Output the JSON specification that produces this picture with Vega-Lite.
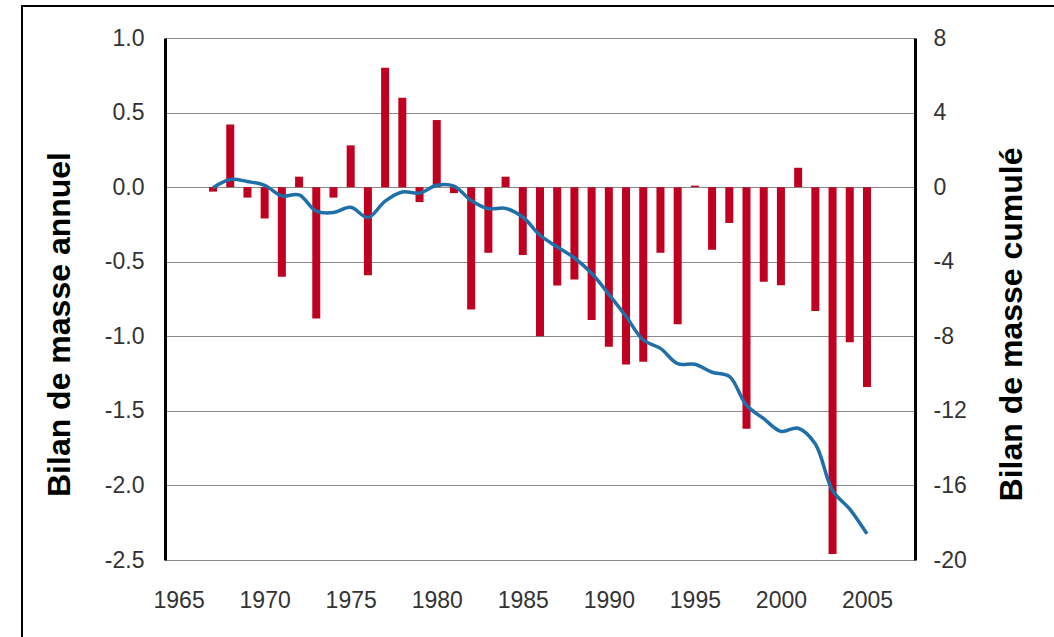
{
  "$schema": "https://vega.github.io/schema/vega-lite/v6.json",
  "autosize": "none",
  "width": 750,
  "height": 522,
  "padding": {"left": 165, "top": 38, "right": 139, "bottom": 77},
  "background": "white",
  "config": {
    "view": {"stroke": null},
    "font": "Liberation Sans",
    "axis": {"labelFont": "Liberation Sans", "titleFont": "Liberation Sans"}
  },
  "data": {
    "values": [
      {"year": 1967, "annual": -0.03, "cum": -0.03},
      {"year": 1968, "annual": 0.42, "cum": 0.41},
      {"year": 1969, "annual": -0.07, "cum": 0.3},
      {"year": 1970, "annual": -0.21, "cum": 0.1},
      {"year": 1971, "annual": -0.6, "cum": -0.47},
      {"year": 1972, "annual": 0.07, "cum": -0.42},
      {"year": 1973, "annual": -0.88, "cum": -1.29},
      {"year": 1974, "annual": -0.07, "cum": -1.36},
      {"year": 1975, "annual": 0.28, "cum": -1.08},
      {"year": 1976, "annual": -0.59, "cum": -1.63},
      {"year": 1977, "annual": 0.8, "cum": -0.75},
      {"year": 1978, "annual": 0.6, "cum": -0.26},
      {"year": 1979, "annual": -0.1, "cum": -0.32},
      {"year": 1980, "annual": 0.45, "cum": 0.1},
      {"year": 1981, "annual": -0.04, "cum": 0.06},
      {"year": 1982, "annual": -0.82, "cum": -0.72},
      {"year": 1983, "annual": -0.44, "cum": -1.16},
      {"year": 1984, "annual": 0.07, "cum": -1.14},
      {"year": 1985, "annual": -0.455, "cum": -1.6},
      {"year": 1986, "annual": -1.0, "cum": -2.58},
      {"year": 1987, "annual": -0.66, "cum": -3.2},
      {"year": 1988, "annual": -0.62, "cum": -3.8},
      {"year": 1989, "annual": -0.89, "cum": -4.62},
      {"year": 1990, "annual": -1.07, "cum": -5.75},
      {"year": 1991, "annual": -1.19, "cum": -6.93},
      {"year": 1992, "annual": -1.17, "cum": -8.2},
      {"year": 1993, "annual": -0.44, "cum": -8.65},
      {"year": 1994, "annual": -0.92, "cum": -9.47},
      {"year": 1995, "annual": 0.01, "cum": -9.5},
      {"year": 1996, "annual": -0.42, "cum": -9.93},
      {"year": 1997, "annual": -0.24, "cum": -10.15},
      {"year": 1998, "annual": -1.62, "cum": -11.7},
      {"year": 1999, "annual": -0.635, "cum": -12.42},
      {"year": 2000, "annual": -0.657, "cum": -13.1},
      {"year": 2001, "annual": 0.13, "cum": -12.93},
      {"year": 2002, "annual": -0.83, "cum": -13.78},
      {"year": 2003, "annual": -2.46, "cum": -16.27},
      {"year": 2004, "annual": -1.04, "cum": -17.27},
      {"year": 2005, "annual": -1.34, "cum": -18.6}
    ]
  },
  "encoding": {
    "x": {
      "field": "year",
      "type": "quantitative",
      "scale": {"domain": [1964.5, 2007.5], "nice": false, "zero": false},
      "axis": {
        "title": null,
        "values": [1965, 1970, 1975, 1980, 1985, 1990, 1995, 2000, 2005],
        "format": "d",
        "grid": false,
        "domain": false,
        "ticks": false,
        "labelFontSize": 23,
        "labelColor": "#333333",
        "labelPadding": 29
      }
    }
  },
  "layer": [
    {
      "layer": [
        {
          "mark": {"type": "bar", "color": "#c00020", "size": 8},
          "encoding": {
            "y": {
              "field": "annual",
              "type": "quantitative",
              "scale": {"domain": [-2.5, 1.0], "nice": false, "zero": true},
              "axis": {
                "title": "Bilan de masse annuel",
                "titleFontSize": 32,
                "titleFontWeight": "bold",
                "titleColor": "black",
                "titlePadding": 28,
                "titleY": 286,
                "values": [-2.5, -2, -1.5, -1, -0.5, 0, 0.5, 1],
                "labelExpr": "(datum.value < 0 ? '-' : '') + format(abs(datum.value), '.1f')",
                "labelFontSize": 23,
                "labelColor": "#333333",
                "labelPadding": 21,
                "ticks": false,
                "domain": true,
                "domainColor": "black",
                "domainWidth": 3,
                "grid": true,
                "gridColor": "#8a8a8a",
                "gridWidth": 1.2
              }
            }
          }
        },
        {
          "mark": {"type": "rect", "fill": null, "stroke": "black", "strokeWidth": 2, "clip": false},
          "encoding": {
            "x": {"datum": 1955.9},
            "x2": {"datum": 2016.5},
            "y": {"datum": 1.215},
            "y2": {"datum": -3.2}
          }
        }
      ]
    },
    {
      "mark": {"type": "line", "color": "#1f6fa8", "strokeWidth": 3.5, "interpolate": "catmull-rom"},
      "encoding": {
        "y": {
          "field": "cum",
          "type": "quantitative",
          "scale": {"domain": [-20, 8], "nice": false, "zero": false},
          "axis": {
            "orient": "right",
            "title": "Bilan de masse cumulé",
            "titleFontSize": 32,
            "titleFontWeight": "bold",
            "titleColor": "black",
            "titleAngle": -90,
            "titleBaseline": "top",
            "titlePadding": 30,
            "titleY": 286,
            "values": [-20, -16, -12, -8, -4, 0, 4, 8],
            "labelExpr": "(datum.value < 0 ? '-' : '') + format(abs(datum.value), 'd')",
            "labelFontSize": 23,
            "labelColor": "#333333",
            "labelPadding": 18,
            "ticks": false,
            "domain": true,
            "domainColor": "black",
            "domainWidth": 3,
            "grid": false
          }
        }
      }
    }
  ],
  "resolve": {"scale": {"y": "independent"}}
}
